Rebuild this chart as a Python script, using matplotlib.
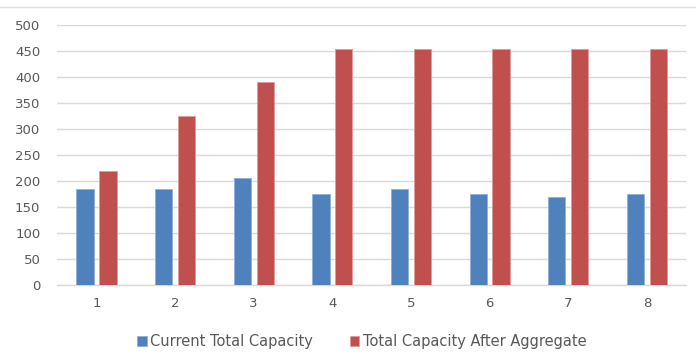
import matplotlib
matplotlib.use("Agg")
import matplotlib.pyplot as plt
import numpy as np
from matplotlib.lines import Line2D

categories = ["1", "2", "3", "4", "5", "6", "7", "8"]
current_total = [185, 185, 205, 175, 185, 175, 170, 175]
after_aggregate = [220, 325, 390, 455, 455, 455, 455, 455]
yticks = [0, 50, 100, 150, 200, 250, 300, 350, 400, 450, 500]

plt.rcParams['font.family'] = ['DejaVu Sans']
fig = plt.figure(figsize=(6.96, 3.54), dpi=100)
ax = fig.add_axes([0.082, 0.195, 0.904, 0.734])

x = np.arange(len(categories))
w = 0.22
ax.bar(x - 0.146, current_total, w, color="#4F81BD", edgecolor="#8FB0DA", linewidth=0.6,
       label="Current Total Capacity", zorder=3)
ax.bar(x + 0.146, after_aggregate, w, color="#C0504D", edgecolor="#DE9A98", linewidth=0.6,
       label="Total Capacity After Aggregate", zorder=3)

ax.set_xlim(-0.5, len(categories) - 0.5)
ax.set_ylim(0, 500)
ax.set_yticks(yticks)
ax.set_xticks(x)
ax.set_xticklabels(categories)
ax.yaxis.grid(True, color="#D9D9D9", linewidth=1.0, zorder=0)
ax.set_axisbelow(True)
for s in ["top", "right", "left"]:
    ax.spines[s].set_visible(False)
ax.spines["bottom"].set_color("#D9D9D9")
ax.spines["bottom"].set_linewidth(1.0)
ax.tick_params(axis="both", length=0, colors="#595959", labelsize=9.5)
ax.tick_params(axis="y", pad=12)
ax.tick_params(axis="x", pad=9)

leg = fig.legend(loc="center", bbox_to_anchor=(0.52, 0.035), ncol=2, frameon=False,
                 fontsize=10.5, handlelength=0.65, handleheight=0.65, handletextpad=0.25,
                 columnspacing=2.5)
for t in leg.get_texts():
    t.set_color("#595959")

fig.add_artist(Line2D([0, 1], [1 - 7/354, 1 - 7/354], color="#E0E0E0", linewidth=1.0,
                      transform=fig.transFigure))

fig.savefig("out.png", dpi=100)
